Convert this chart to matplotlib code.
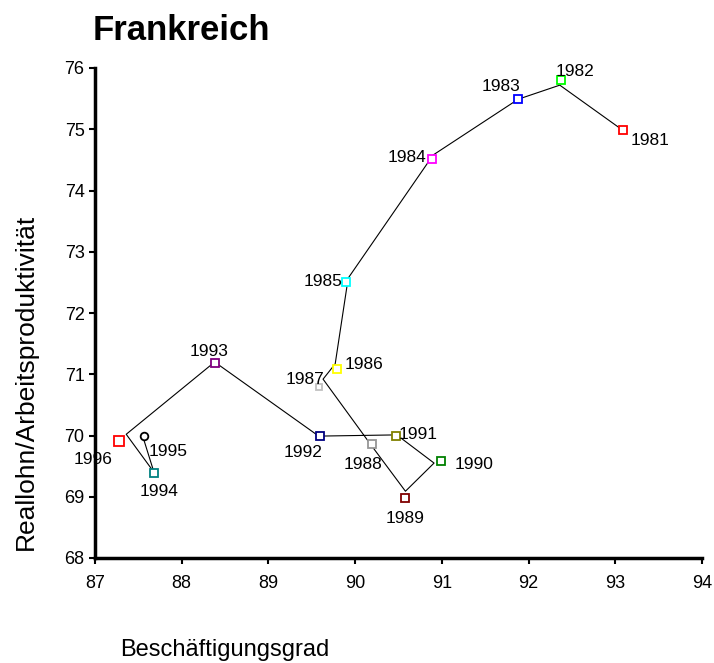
import matplotlib
matplotlib.use("Agg")
from matplotlib import pyplot as plt

plt.rcParams['font.family'] = ['Liberation Sans', 'DejaVu Sans']

# marker positions (Beschaeftigungsgrad, Reallohn/Arbeitsproduktivitaet)
years = ["1981", "1982", "1983", "1984", "1985", "1986", "1987", "1988",
         "1989", "1990", "1991", "1992", "1993", "1994", "1995", "1996"]
mx = [93.09, 92.37, 91.88, 90.89, 89.90, 89.79, 89.58, 90.19,
      90.58, 90.99, 90.47, 89.60, 88.38, 87.68, 87.57, 87.28]
my = [74.99, 75.80, 75.49, 74.51, 72.51, 71.09, 70.79, 69.86,
      68.98, 69.58, 69.99, 69.99, 71.18, 69.39, 69.99, 69.91]
colors = ["#FF0000", "#00FF00", "#0000FF", "#FF00FF", "#00FFFF", "#FFFF00",
          "#C0C0C0", "#969696", "#800000", "#008000", "#808000", "#000080",
          "#800080", "#008080", "#000000", "#FF0000"]
shapes = ["s"] * 14 + ["o", "s"]

# connecting line (drawn as its own series)
lx = [93.08, 92.36, 91.88, 90.90, 89.92, 89.77, 89.63, 90.17,
      90.58, 90.91, 90.48, 89.58, 88.38, 87.36, 87.68, 87.55]
ly = [74.99, 75.72, 75.49, 74.58, 72.57, 71.17, 70.92, 69.87,
      69.09, 69.55, 70.01, 69.99, 71.20, 70.02, 69.40, 69.99]

# label offsets in pixels (dx, dy) and alignment
offs = [(27, -11, 'center'), (14, 9, 'center'), (-17, 13, 'center'), (-6, 2, 'right'),
        (-4, 0, 'right'), (8, 4, 'left'), (6, 8, 'right'), (-9, -20, 'center'),
        (0, -21, 'center'), (14, -3, 'left'), (3, 2, 'left'), (-17, -16, 'center'),
        (-6, 12, 'center'), (5, -19, 'center'), (4, -15, 'left'), (-7, -18, 'right')]

fig = plt.figure(figsize=(7.14, 6.63), dpi=100)
ax = fig.add_axes([95/714, 1-558/663, 607/714, 490/663])

ax.plot(lx, ly, color='black', lw=0.8, zorder=2)
for i in range(len(years)):
    ms = 6
    if years[i] == "1996":
        ms = 7.5
    if years[i] == "1987":
        ms = 5
    if years[i] == "1995":
        ms = 5.5
    ax.plot(mx[i], my[i], marker=shapes[i], ms=ms, mfc='white', mec=colors[i],
            mew=1.3, ls='none', zorder=3)
    dx, dy, ha = offs[i]
    ax.annotate(years[i], (mx[i], my[i]), xytext=(dx*0.72, dy*0.72),
                textcoords='offset points', ha=ha, va='center', fontsize=12.5,
                zorder=4)

ax.set_xlim(87, 94)
ax.set_ylim(68, 76)
ax.set_xticks(range(87, 95))
ax.set_yticks(range(68, 77))
ax.spines['top'].set_visible(False)
ax.spines['right'].set_visible(False)
ax.spines['left'].set_linewidth(2.5)
ax.spines['bottom'].set_linewidth(2.5)
ax.tick_params(axis='both', labelsize=13, length=4, width=1.5, direction='out')
ax.tick_params(axis='x', pad=8)

fig.text(93/714, 1-30/663, "Frankreich", fontsize=25, fontweight='bold',
         ha='left', va='center')
fig.text(120/714, 1-650/663, "Beschäftigungsgrad", fontsize=17,
         ha='left', va='center')
fig.text(26/714, 1-382/663, "Reallohn/Arbeitsproduktivität", fontsize=19,
         rotation=90, ha='center', va='center')

plt.savefig("out.png")
